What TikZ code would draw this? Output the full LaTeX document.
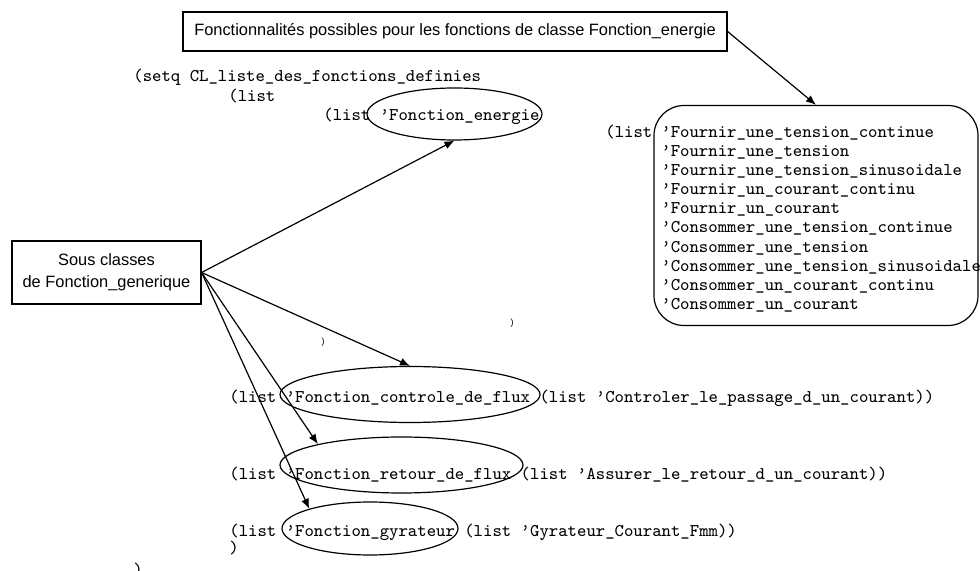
\documentclass[tikz,border=0pt]{standalone}
\usepackage{fontspec}
\setmainfont{Liberation Sans}
\usetikzlibrary{arrows.meta,shapes.geometric}
\begin{document}
\begin{tikzpicture}[x=0.5pt,y=-0.5pt,
  code/.style={anchor=base west, inner sep=0pt, font=\ttfamily\fontsize{8.95}{10}\selectfont},
  oval/.style={draw, ellipse, inner sep=0pt, line width=0.6pt},
  box/.style={draw, line width=0.6pt, inner sep=0pt, font=\fontsize{8.2}{11}\selectfont, align=center},
  arr/.style={line width=0.6pt, -{Latex[length=5pt,width=4pt]}},
  paren/.style={inner sep=0pt, font=\fontsize{4.5}{5}\selectfont}]
\useasboundingbox (0,0) rectangle (980,571);

% boxes
\node[box, minimum width=272pt, minimum height=19.5pt] (title) at (455,31.5)
  {Fonctionnalités possibles pour les fonctions de classe Fonction\_energie};
\node[box, minimum width=94.5pt, minimum height=31.5pt] (sous) at (106.5,272.5)
  {Sous classes\\de Fonction\_generique};
\node[draw, line width=0.6pt, rounded corners=15pt, minimum width=162pt, minimum height=110pt] (rbox) at (816,215.5) {};

% code text
\node[code] (setq) at (133,81.5) {(setq CL\_liste\_des\_fonctions\_definies};
\node[code] (l1) at (228,101.5) {(list};
\node[code] (l2) at (323,121) {(list ’Fonction\_energie};
\node[code] (l3) at (605,137.5) {(list};
\foreach \t [count=\i from 0] in {%
  ’Fournir\_une\_tension\_continue,
  ’Fournir\_une\_tension,
  ’Fournir\_une\_tension\_sinusoidale,
  ’Fournir\_un\_courant\_continu,
  ’Fournir\_un\_courant,
  ’Consommer\_une\_tension\_continue,
  ’Consommer\_une\_tension,
  ’Consommer\_une\_tension\_sinusoidale,
  ’Consommer\_un\_courant\_continu,
  ’Consommer\_un\_courant}
  \node[code] (f\i) at (661,{137.5+19.1*\i}) {\t};
\node[code] (lc) at (229,402.5) {(list ’Fonction\_controle\_de\_flux (list ’Controler\_le\_passage\_d\_un\_courant))};
\node[code] (lr) at (229,479.5) {(list ’Fonction\_retour\_de\_flux (list ’Assurer\_le\_retour\_d\_un\_courant))};
\node[code] (lg) at (229,536.5) {(list ’Fonction\_gyrateur (list ’Gyrateur\_Courant\_Fmm))};
\node[code] (p1) at (229,553.5) {)};
\node[code] (p2) at (133,575) {)};
\node[paren] (p3) at (512,323) {)};
\node[paren] (p4) at (323,342) {)};

% ellipses
\node[oval, minimum width=87.5pt, minimum height=26pt] (eE) at (454.5,114) {};
\node[oval, minimum width=130pt, minimum height=28pt] (eC) at (410,394.5) {};
\node[oval, minimum width=121.5pt, minimum height=28pt] (eR) at (401.5,465) {};
\node[oval, minimum width=88pt, minimum height=26.5pt] (eG) at (370,528.5) {};

% arrows
\draw[arr] (title.east) -- (rbox.north);
\draw[arr] (sous.east) -- (eE.south);
\draw[arr] (sous.east) -- (eC.north);
\draw[arr] (sous.east) -- (eR.166);
\draw[arr] (sous.east) -- (eG.162);
\end{tikzpicture}
\end{document}
